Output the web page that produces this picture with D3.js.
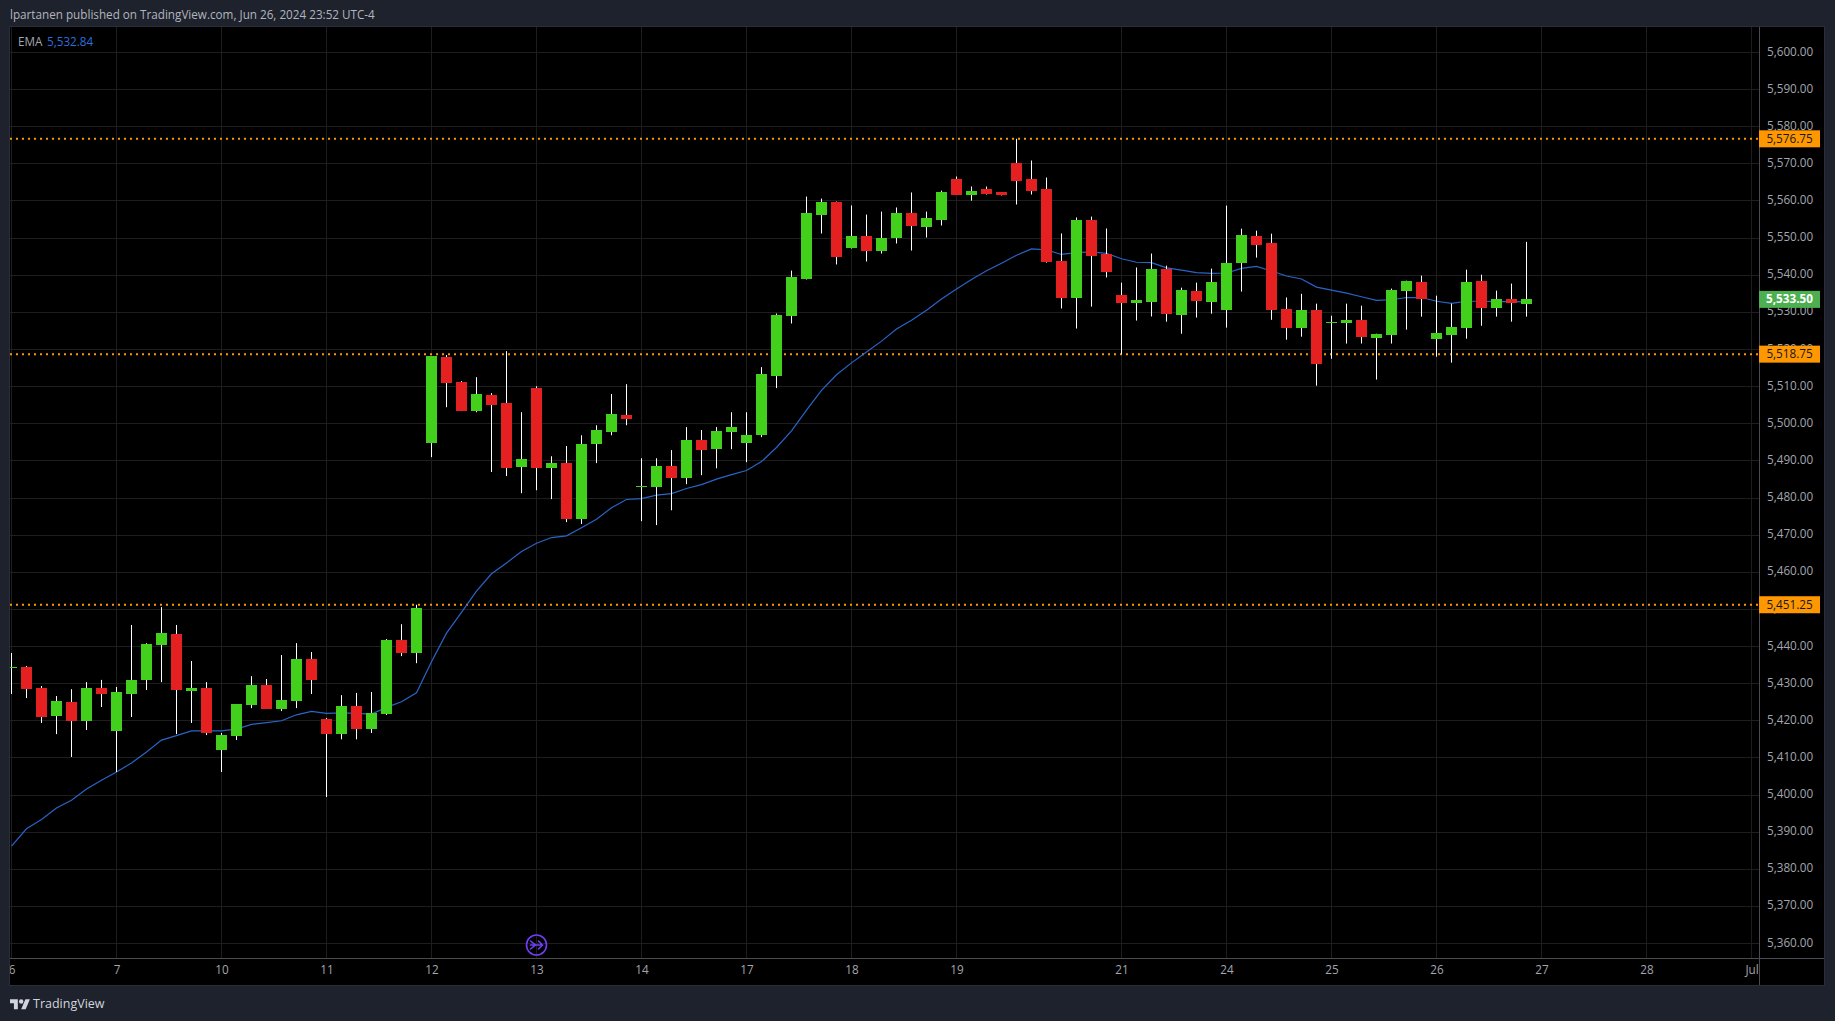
<!DOCTYPE html>
<html><head><meta charset="utf-8">
<script src="https://cdn.jsdelivr.net/npm/d3@7/dist/d3.min.js"></script>
<style>html,body{margin:0;padding:0;background:#1e222d;overflow:hidden}svg{display:block}text{font-family:"Open Sans","Noto Sans",sans-serif}</style>
</head><body><svg id="c" width="1835" height="1021"></svg>
<script>
const opens=[5434.25,5434.4,5428.8,5421.25,5425,5419.9,5428.8,5417.25,5427.2,5431,5440.4,5443.35,5428,5428.8,5412.1,5415.9,5424.2,5429.6,5423.15,5425.3,5436.6,5420.5,5416.4,5424,5417.75,5421.8,5441.75,5438.25,
5494.8,5517.95,5511.2,5503.4,5507.7,5505.55,5488.3,5509.6,5488,5489.4,5474.3,5494.5,5497.75,5502.3,5483,5482.9,5488.6,5485.35,5495.6,5493.15,5497.75,5494.75,5496.9,5512.8,5529.15,5539.1,5556.35,5559.85,5547.45,5550.7,5546.65,5549.9,5556.9,5553.1,5555,5565.8,5561.75,5563.1,5562.3,5570.35,5565.8,5563.35,5543.95,5534,5554.75,5545.85,
5534.55,5532.4,5532.9,5541.8,5529.4,5535.85,5532.9,5530.7,5543.4,5550.65,5548.8,5531,5525.9,5530.7,5527.25,5527.25,5528,5523.2,5524,5535.85,5538.3,5522.9,5524,5525.9,5538.55,5531.25,5533.7,5532.35];
const closes=[5434.5,5428.5,5421,5425.3,5419.9,5428.8,5427.2,5427.75,5431,5440.65,5443.6,5428.3,5428.8,5416.7,5416.15,5424.5,5429.6,5423.15,5425.6,5436.6,5431,5416.4,5424,5417.75,5422.1,5441.75,5438.25,5450.35,
5518.2,5510.9,5503.4,5508,5505,5488,5490.45,5488,5489.4,5474.3,5494.5,5498.3,5502.6,5501.25,5483.2,5488.6,5485.35,5495.6,5492.9,5498,5499.1,5496.9,5513.35,5529.4,5539.65,5556.9,5559.6,5545,5550.7,5546.65,5550.15,5556.9,5553.4,5555.3,5562.3,5561.75,5562.8,5562,5561.75,5565.5,5562.8,5543.7,5534,5554.75,5545.3,5541,
5532.4,5533.2,5541.8,5529.65,5536.1,5533.15,5538.3,5543.4,5550.9,5548.25,5530.7,5525.9,5530.7,5516.2,5527.5,5528,5523.45,5524.25,5536.1,5538.55,5533.7,5524.5,5526.15,5538.3,5531.25,5533.7,5532.6,5533.5];
const highs=[5438.25,5434.75,5429.35,5426.65,5428.5,5430.4,5431,5429.1,5445.8,5440.9,5450.6,5445.8,5436.1,5430.4,5416.7,5424.5,5432,5431.25,5437.7,5440.9,5438.5,5420.75,5426.9,5427.5,5427.75,5442,5446,5451.25,
5518.2,5518.5,5511.5,5512.55,5508.25,5519.55,5503.1,5510.1,5491.25,5494,5496.9,5499.6,5508,5510.65,5490.7,5490.7,5492.9,5499.1,5498.3,5499.1,5503.1,5503.1,5515.25,5529.7,5541.25,5561.2,5560.65,5559.85,5558.8,5556.35,5557.15,5558.25,5562.3,5557.15,5562.8,5566.6,5563.9,5563.9,5562.3,5576.75,5570.9,5566.3,5551.25,5555.55,5555.8,5552.6,
5538,5542.1,5545.85,5542.6,5536.65,5538,5541.8,5558.75,5552.55,5552,5551.2,5534,5535,5532.35,5529.1,5532.35,5531.8,5524.25,5536.4,5538.55,5539.9,5534.5,5532.35,5541.5,5540.15,5535.85,5537.75,5549];
const lows=[5427.2,5426.1,5419.4,5416.4,5410.25,5417.5,5423.7,5406.2,5421,5428.3,5430.4,5416.4,5419.4,5416.15,5406.2,5414.8,5423.4,5423.15,5422.6,5423.4,5427.2,5399.45,5415,5415,5416.7,5421.55,5437.4,5435.5,
5491,5504.45,5503.4,5503.1,5487,5485.9,5481.3,5482.1,5479.7,5473.5,5473,5489.4,5496.9,5499.6,5473.75,5472.7,5476.7,5483.7,5486.15,5488,5493.15,5489.65,5496.4,5509.6,5527,5538.85,5551.25,5542.9,5547.2,5543.7,5545.85,5548.55,5546.65,5550.15,5553.4,5561.75,5560.1,5561.75,5561.5,5559.05,5561.75,5543.4,5531.05,5525.65,5531.55,5539.4,
5518.75,5527.8,5528.9,5527.5,5524.25,5528.6,5529.65,5525.9,5535.6,5544.75,5528,5522.65,5523.45,5510.25,5517.5,5521.6,5521.6,5511.9,5521.6,5525.35,5528.85,5518.05,5516.45,5522.9,5526.4,5528.85,5527.5,5528.85];
const ema=[5386.2,5390.9,5393.4,5396.5,5398.6,5401.6,5404,5406.2,5408.6,5411.6,5414.8,5416,5417.25,5417.25,5417.25,5417.75,5419,5419.5,5420,5421.6,5422.5,5422,5422.1,5422,5421.8,5423.6,5425.1,5427.55,5435.9,5443.6,5449.2,5454.9,5459.6,5462.5,5465.6,5467.8,5469.35,5469.8,5472,5474.3,5477.35,5479.6,5479.85,5480.75,5481.2,5482.55,5483.6,5485.1,5486.3,5487.4,5489.8,5493.6,5498.1,5503.65,5509,5513.2,5516.4,5519.3,5522.25,5525.5,5527.9,5530.6,5533.6,5536.3,5538.85,5541.2,5543.25,5545.4,5547.1,5546.85,5545.6,5546.1,5546.3,5545.9,5544.45,5543.5,5543.4,5542,5541.4,5540.7,5540.5,5540.6,5541.85,5542.4,5541.15,5539.8,5539,5536.8,5536,5535.2,5534.2,5533.25,5533.4,5534,5534,5533,5532.4,5533,5533,5532.9,5532.9,5532.84];
const timeTickBars=[0,7,14,21,28,35,42,49,56,63,74,81,88,95,102,109,116];
const timeTickLabels=["6","7","10","11","12","13","14","17","18","19","21","24","25","26","27","28","Jul"];
const priceTicks=d3.range(5360,5601,10);
const levels=[5576.75,5518.75,5451.25];
const lastPrice=5533.5;

const svg=d3.select("#c");
const x=d3.scaleLinear().domain([0,116]).range([11.5,1751.5]);
const y=d3.scaleLinear().domain([5360,5600]).range([943.5,52.5]);
const crisp=v=>Math.floor(v)+.5;
const COL={bg:"#1e222d",border:"#2a2e39",grid:"#1e1e1e",axis:"#4a4c52",txt:"#a3a6af",up:"#42d01c",dn:"#e52020",wick:"#ffffff",lvl:"#ff9800",ema:"#2a64c8"};
const fmt=d3.format(",.2f");

const defs=svg.append("defs");
defs.append("clipPath").attr("id","plot").append("rect").attr("x",10).attr("y",27).attr("width",1749).attr("height",931);
defs.append("clipPath").attr("id","tax").append("rect").attr("x",10).attr("y",958).attr("width",1749).attr("height",27);

svg.append("rect").attr("width",1835).attr("height",1021).attr("fill",COL.bg);
svg.append("rect").attr("x",9.5).attr("y",26.5).attr("width",1815).attr("height",959).attr("fill","#000").attr("stroke",COL.border);

svg.append("text").attr("x",10).attr("y",18.5).attr("font-size",11.7).attr("fill","#b2b5be").text("lpartanen published on TradingView.com, Jun 26, 2024 23:52 UTC-4");

const plot=svg.append("g").attr("clip-path","url(#plot)");
plot.append("g").selectAll("line").data(priceTicks).join("line")
 .attr("x1",10).attr("x2",1759).attr("y1",d=>crisp(y(d))).attr("y2",d=>crisp(y(d))).attr("stroke",COL.grid);
plot.append("g").selectAll("line").data(timeTickBars).join("line")
 .attr("x1",d=>crisp(x(d))).attr("x2",d=>crisp(x(d))).attr("y1",27).attr("y2",958).attr("stroke",COL.grid);
plot.append("g").selectAll("line").data(levels).join("line")
 .attr("x1",10).attr("x2",1759).attr("y1",d=>y(d)).attr("y2",d=>y(d)).attr("stroke",COL.lvl).attr("stroke-width",2).attr("stroke-dasharray","2 4");
plot.append("path").datum(ema).attr("fill","none").attr("stroke",COL.ema).attr("stroke-width",1.2)
 .attr("d",d3.line().x((d,i)=>x(i)).y(d=>y(d)));
const bars=d3.range(opens.length);
plot.append("g").selectAll("line").data(bars).join("line")
 .attr("x1",i=>crisp(x(i))).attr("x2",i=>crisp(x(i))).attr("y1",i=>y(highs[i])).attr("y2",i=>y(lows[i])).attr("stroke",COL.wick);
plot.append("g").selectAll("rect").data(bars).join("rect")
 .attr("x",i=>Math.floor(x(i))-5).attr("width",11)
 .attr("y",i=>Math.round(y(Math.max(opens[i],closes[i]))))
 .attr("height",i=>Math.max(1,Math.round(y(Math.min(opens[i],closes[i])))-Math.round(y(Math.max(opens[i],closes[i])))))
 .attr("fill",i=>closes[i]>=opens[i]?COL.up:COL.dn);

// price axis
const pAxis=svg.append("g").attr("transform","translate(1759,-1.2)")
 .call(d3.axisRight(y).tickValues(priceTicks).tickFormat(fmt).tickSize(0).tickPadding(8));
pAxis.select(".domain").remove();
pAxis.selectAll("text").attr("font-size",11.7).attr("fill",COL.txt).attr("font-family",'"Open Sans",sans-serif');

// time axis
const tClip=svg.append("g").attr("clip-path","url(#tax)");
const tg=tClip.append("g").attr("transform","translate(0,958)").call(d3.axisBottom(x).tickValues(timeTickBars).tickFormat(d=>timeTickLabels[timeTickBars.indexOf(d)]).tickSize(0).tickPadding(8));
tg.select(".domain").remove();
tg.selectAll("text").attr("font-size",11.7).attr("fill",COL.txt).attr("font-family",'"Open Sans",sans-serif');
svg.append("line").attr("x1",10).attr("x2",1824).attr("y1",958.5).attr("y2",958.5).attr("stroke",COL.axis);
svg.append("line").attr("x1",1759.5).attr("x2",1759.5).attr("y1",27).attr("y2",985).attr("stroke",COL.axis);

// price tags
const tags=levels.map(p=>({p,bg:COL.lvl,fg:"#131722",w:400})).concat([{p:lastPrice,bg:"#4caf50",fg:"#ffffff",w:700}]);
const tg2=svg.append("g").selectAll("g").data(tags).join("g").attr("transform",d=>`translate(1759,${y(d.p)})`);
tg2.append("rect").attr("x",0).attr("y",-8.5).attr("width",61).attr("height",17).attr("fill",d=>d.bg);
tg2.append("text").attr("x",30.5).attr("y",4).attr("text-anchor","middle").attr("font-size",11.7).attr("font-weight",d=>d.w).attr("fill",d=>d.fg).text(d=>fmt(d.p));

// legend
svg.append("text").attr("x",18).attr("y",45.5).attr("font-size",11.7).attr("fill","#a3a6af").text("EMA");
svg.append("text").attr("x",47).attr("y",45.5).attr("font-size",11.7).attr("fill","#2a6fdb").text(fmt(ema[ema.length-1]));

// icon
const ic=svg.append("g").attr("transform",`translate(${x(35)},945)`).attr("fill","none").attr("stroke","#6d3ff0").attr("stroke-width",1.6).attr("stroke-linecap","round");
ic.append("circle").attr("r",10);
ic.append("path").attr("d","M-6,-4 L-1,0 L-6,4 M-6,0 H6 M2,-4 L6,0 L2,4");

// logo
const lg=svg.append("g").attr("transform","translate(10,997) scale(0.56)").attr("fill","#d1d4dc");
lg.append("path").attr("d","M14 22H7V11H0V4h14v18zM28 22h-8l7.5-18h8L28 22z");
lg.append("circle").attr("cx",20).attr("cy",8).attr("r",4);
svg.append("text").attr("x",33).attr("y",1008).attr("font-size",12.5).attr("fill","#d1d4dc").text("TradingView");
</script></body></html>
